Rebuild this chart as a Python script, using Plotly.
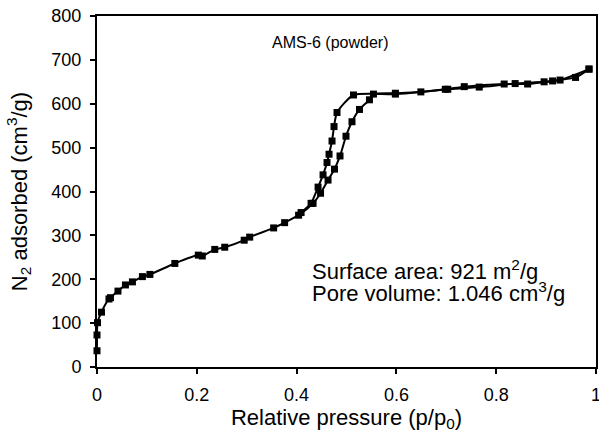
import plotly.graph_objects as go

BLACK = "#000000"
FONT = "Liberation Sans, Arial, sans-serif"

# adsorption branch (p/p0, cm3/g)
ads_p = [0.0, 0.0, 0.001, 0.009, 0.024, 0.027, 0.042, 0.057, 0.071, 0.091, 0.106,
         0.156, 0.203, 0.211, 0.236, 0.256, 0.295, 0.306, 0.354, 0.376, 0.404,
         0.433, 0.448, 0.463, 0.476, 0.487, 0.499, 0.511, 0.526, 0.546, 0.554,
         0.598, 0.649, 0.703, 0.766, 0.838, 0.896, 0.928, 0.986]
ads_v = [37, 73, 101, 125, 155, 158, 173, 187, 194, 206, 211,
         236, 255, 253, 268, 273, 289, 296, 317, 329, 346,
         373, 396, 426, 451, 481, 526, 559, 587, 609, 622,
         624, 627, 633, 638, 646, 650, 654, 679]

# desorption branch
des_p = [0.986, 0.959, 0.913, 0.863, 0.816, 0.736, 0.698, 0.598, 0.514, 0.481,
         0.475, 0.471, 0.465, 0.461, 0.453, 0.443, 0.429, 0.409]
des_v = [679, 660, 652, 645, 645, 639, 633, 622, 620, 580,
         548, 515, 485, 466, 438, 410, 373, 352]

fig = go.Figure()
for p, v, name in [(ads_p, ads_v, "adsorption"), (des_p, des_v, "desorption")]:
    fig.add_scatter(
        x=p, y=v, name=name, mode="lines+markers", cliponaxis=False,
        line=dict(color=BLACK, width=2, shape="spline", smoothing=0.6),
        marker=dict(symbol="square", size=7, color=BLACK),
    )

fig.add_annotation(x=0.346, y=739, text="AMS-6 (powder)", showarrow=False,
                   xanchor="left", yanchor="middle", font=dict(size=16))
fig.add_annotation(x=0.426, y=221, text="Surface area: 921 m<sup>2</sup>/g", showarrow=False,
                   xanchor="left", yanchor="middle", font=dict(size=22))
fig.add_annotation(x=0.426, y=171, text="Pore volume: 1.046 cm<sup>3</sup>/g", showarrow=False,
                   xanchor="left", yanchor="middle", font=dict(size=22))

fig.update_layout(
    width=599, height=434,
    margin=dict(l=97, r=3, t=16, b=67, autoexpand=False),
    paper_bgcolor="white", plot_bgcolor="white",
    font=dict(family=FONT, color=BLACK, size=18),
    showlegend=False,
)
fig.update_xaxes(
    range=[0, 1], tickvals=[0, 0.2, 0.4, 0.6, 0.8, 1], ticktext=["0", "0.2", "0.4", "0.6", "0.8", "1"],
    showgrid=False, zeroline=False, showline=True, linecolor=BLACK, linewidth=2, mirror=True,
    ticks="outside", ticklen=5, tickwidth=2, tickcolor=BLACK, ticklabelstandoff=5,
    ticklabeloverflow="allow", automargin=False,
    title=dict(text="Relative pressure (p/p<sub>0</sub>)", standoff=4),
)
fig.update_yaxes(
    range=[0, 800], dtick=100,
    showgrid=False, zeroline=False, showline=True, linecolor=BLACK, linewidth=2, mirror=True,
    ticks="outside", ticklen=5, tickwidth=2, tickcolor=BLACK, ticklabelstandoff=5,
    ticklabeloverflow="allow", automargin=False,
    title=dict(text="N<sub>2</sub> adsorbed (cm<sup>3</sup>/g)", standoff=18),
)

# drop the default body margin so the figure sits at the page origin
fig.write_html("out.html", config={"displayModeBar": False},
               post_script="document.body.style.margin='0';")
